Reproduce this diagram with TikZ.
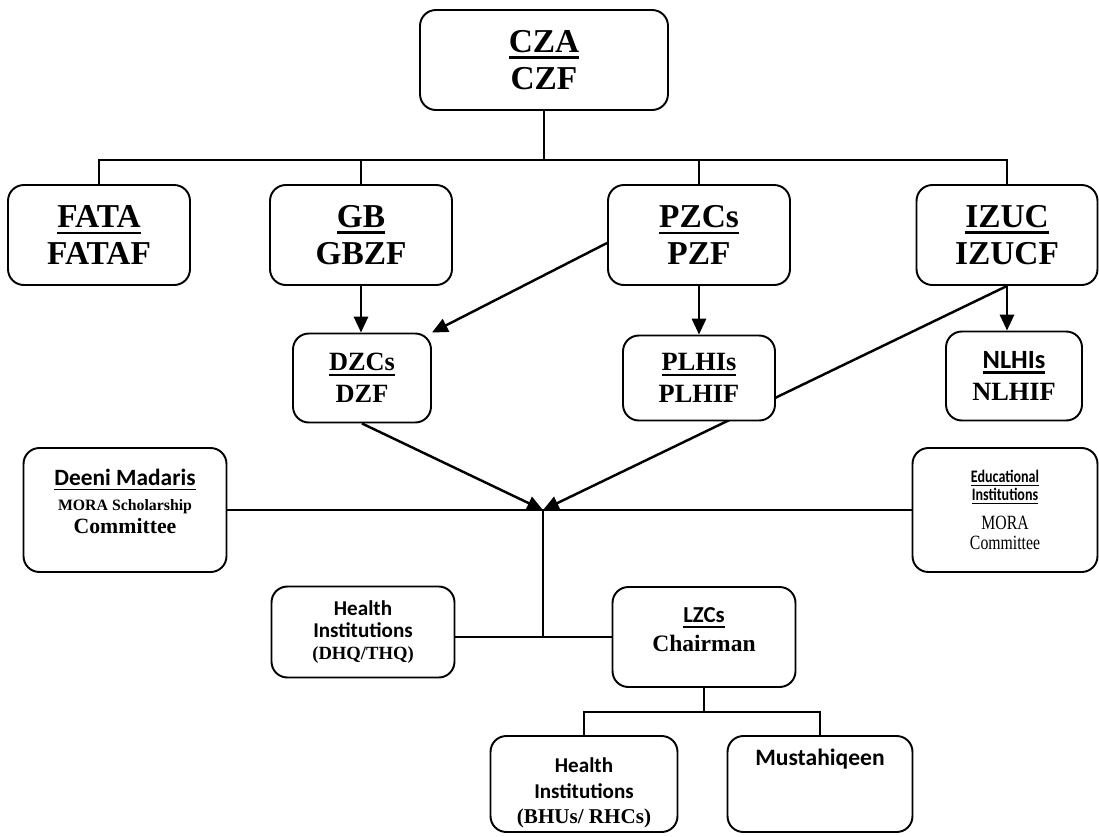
\documentclass[tikz,border=0pt]{standalone}
\usepackage{fontspec}
\setmainfont{Liberation Serif}
\newfontfamily\cali{Carlito}
\newfontfamily\calin{Carlito}[FakeStretch=0.8]
\newfontfamily\timesn{Liberation Serif}[FakeStretch=0.78]
\usetikzlibrary{arrows.meta,backgrounds}
\newcommand{\undl}[1]{\leavevmode\setbox0=\hbox{#1}\rlap{\rule[-0.2em]{\wd0}{0.08em}}\box0}
\tikzset{
  caja/.style={draw, line width=1.1pt, rounded corners=9pt, fill=white, align=center, inner sep=2pt},
  grande/.style={font=\bfseries\fontsize{19}{21}\selectfont},
  media/.style={font=\bfseries\fontsize{15}{18.5}\selectfont},
  linea/.style={line width=0.9pt},
  flecha/.style={line width=1.4pt, -{Triangle[length=9pt,width=8pt]}},
}
\begin{document}
\begin{tikzpicture}[x=0.02cm,y=-0.02cm]
                \useasboundingbox (0,0) rectangle (1099,836);
                % nivel central
                \node[caja, grande, minimum width=4.96cm, minimum height=2cm] (cza) at (544,60) {\undl{CZA}\\CZF};
                % nivel provincial
                \node[caja, grande, minimum width=3.64cm, minimum height=2cm] (fata) at (99,235) {\undl{FATA}\\FATAF};
                \node[caja, grande, minimum width=3.64cm, minimum height=2cm] (gb) at (361,235) {\undl{GB}\\GBZF};
                \node[caja, grande, minimum width=3.64cm, minimum height=2cm] (pzc) at (699,235) {\undl{PZCs}\\PZF};
                \node[caja, grande, minimum width=3.62cm, minimum height=2cm] (izuc) at (1007,235) {\undl{IZUC}\\IZUCF};
                % nivel distrital
                \node[caja, media, minimum width=2.76cm, minimum height=1.78cm] (dzc) at (362,378) {\undl{DZCs}\\DZF};
                \node[caja, media, minimum width=3.04cm, minimum height=1.7cm] (plhi) at (699,378) {\undl{PLHIs}\\PLHIF};
                \node[caja, media, minimum width=2.72cm, minimum height=1.78cm] (nlhi) at (1014,376) {{\cali\fontsize{15}{17}\selectfont\undl{NLHIs}}\\NLHIF};
                % comites
                \node[caja, font=\bfseries\fontsize{12}{14}\selectfont, text depth=0.35cm, minimum width=4.06cm, minimum height=2.48cm] (deeni) at (125,510)
                  {{\cali\fontsize{13.3}{16}\selectfont\undl{Deeni Madaris}}\\{\fontsize{9}{11}\selectfont MORA Scholarship}\\[-1pt]{\fontsize{12.4}{14}\selectfont Committee}};
                \node[caja, font=\timesn\fontsize{11.5}{13}\selectfont, minimum width=3.7cm, minimum height=2.48cm] (edu) at (1005,510)
                  {{\calin\bfseries\fontsize{10}{10}\selectfont\undl{Educational}}\\[-2.8pt]{\calin\bfseries\fontsize{10}{10}\selectfont\undl{Institutions}}\\[3pt]MORA\\[-1.5pt]Committee};
                % nivel local
                \node[caja, font=\bfseries\fontsize{11}{12.5}\selectfont, minimum width=3.66cm, minimum height=1.82cm] (dhq) at (363,632)
                  {{\cali\fontsize{12}{14}\selectfont Health}\\{\cali\fontsize{12}{14}\selectfont Institutions}\\{\fontsize{10.6}{12}\selectfont (DHQ/THQ)}};
                \node[caja, font=\bfseries\fontsize{13.4}{16}\selectfont, text depth=0.3cm, minimum width=3.66cm, minimum height=2cm] (lzc) at (704,637)
                  {{\cali\fontsize{13}{15}\selectfont\undl{LZCs}}\\Chairman};
                \node[caja, font=\bfseries\fontsize{12}{14.5}\selectfont, text height=1.68cm, minimum width=3.74cm, minimum height=1.92cm] (bhu) at (584,784)
                  {{\cali Health}\\{\cali Institutions}\\(BHUs/ RHCs)};
                \node[caja, font=\cali\bfseries\fontsize{13.4}{16}\selectfont, text depth=1.07cm, minimum width=3.7cm, minimum height=1.92cm] (must) at (820,784) {Mustahiqeen};
                % conectores
                \coordinate (top) at (544,160);
                \coordinate (hub) at (543,510);
                \coordinate (split) at (704,712);
                \draw[linea] (cza) -- (top);
                \draw[linea] (fata.north) |- (top) -| (izuc.north);
                \draw[linea] (gb.north) -- (gb.north |- top);
                \draw[linea] (pzc.north) -- (pzc.north |- top);
                \draw[flecha] (gb.south) -- (gb.south |- dzc.north);
                \draw[flecha] ([yshift=-0.16cm]pzc.west) -- (dzc.north east);
                \draw[flecha] (pzc.south) -- (plhi.north);
                \draw[flecha] (izuc.south) -- (izuc.south |- nlhi.north);
                \draw[flecha] (dzc.south) -- (hub);
                \begin{pgfonlayer}{background}
                \draw[flecha] (izuc.south) -- (hub); % pasa por detras de PLHIs
                \end{pgfonlayer}
                \draw[linea] (deeni) -- (edu);
                \draw[linea] (hub) -- (hub |- lzc.west);
                \draw[linea] (dhq.east |- lzc.west) -- (lzc.west);
                \draw[linea] (lzc.south) -- (split);
                \draw[linea] (bhu.north) |- (split) -| (must.north);
\end{tikzpicture}
\end{document}
